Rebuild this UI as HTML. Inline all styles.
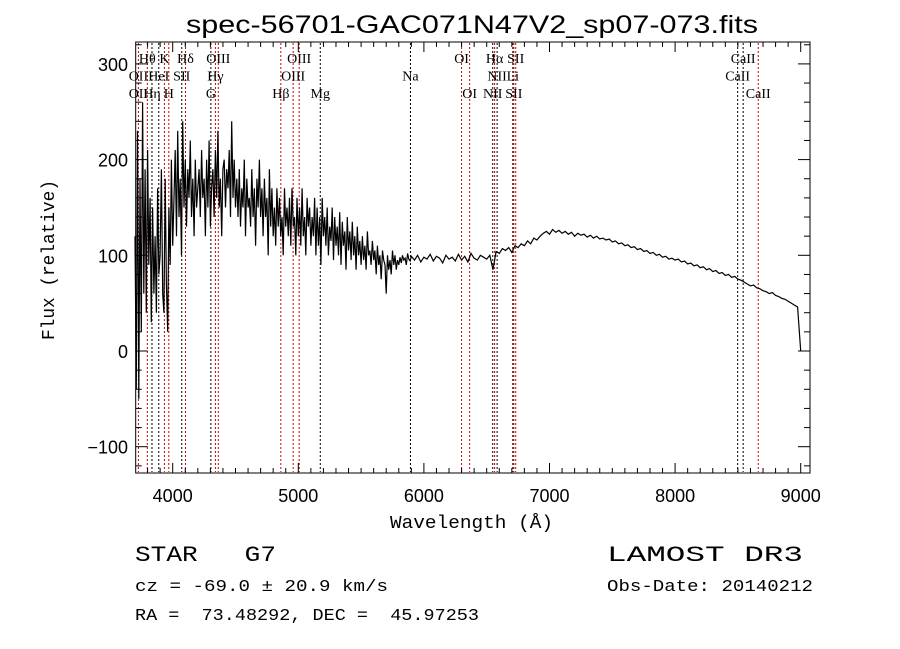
<!DOCTYPE html>
<html><head><meta charset="utf-8"><style>
body{margin:0;background:#fff;width:900px;height:649px;overflow:hidden}
svg{display:block}
text{white-space:pre}
.ser{font-family:"Liberation Serif",serif;font-size:14px}
.mono{font-family:"Liberation Mono",monospace}
.sans{font-family:"Liberation Sans",sans-serif}
</style></head><body>
<svg id="chart" width="900" height="649" xml:space="preserve">
<text x="186" y="33" textLength="572" lengthAdjust="spacingAndGlyphs" class="sans" font-size="25">spec-56701-GAC071N47V2_sp07-073.fits</text>
<g id="lines"></g>
<g id="labels"></g>
<path id="spec" fill="none" stroke="#000" stroke-width="1.2"/>
<rect x="135.7" y="42" width="674.3" height="431" fill="none" stroke="#000"/>
<g id="ticks"></g>
<text x="390" y="528" textLength="163" lengthAdjust="spacingAndGlyphs" class="mono" font-size="18">Wavelength (Å)</text>
<text transform="translate(54,340) rotate(-90)" textLength="160" lengthAdjust="spacingAndGlyphs" class="mono" font-size="18">Flux (relative)</text>
<text x="135" y="561" textLength="141" lengthAdjust="spacingAndGlyphs" class="mono" font-size="22">STAR   G7</text>
<text x="135" y="591" textLength="253" lengthAdjust="spacingAndGlyphs" class="mono" font-size="17">cz = -69.0 ± 20.9 km/s</text>
<text x="135" y="620" textLength="344" lengthAdjust="spacingAndGlyphs" class="mono" font-size="17">RA =  73.48292, DEC =  45.97253</text>
<text x="607" y="561" textLength="196" lengthAdjust="spacingAndGlyphs" class="mono" font-size="22">LAMOST DR3</text>
<text x="607" y="591" textLength="206" lengthAdjust="spacingAndGlyphs" class="mono" font-size="17">Obs-Date: 20140212</text>
</svg>
<script>
const fluxBlue=[120,-40,230,-50,180,20,260,60,190,40,210,
90,160,30,150,60,120,40,170,80,100,
190,60,40,180,70,20,150,90,200,110,
160,210,120,230,140,180,100,240,150,200,
130,190,160,220,140,180,120,200,150,170,
190,140,210,160,180,120,200,150,220,130,
170,190,140,210,160,230,150,180,120,190,
200,150,190,170,210,140,240,160,200,150,
180,140,190,130,170,150,200,120,180,150,
160,130,190,140,170,110,180,150,200,140,
170,120,180,140,160,100,190,130,170,120,
150,110,170,130,160,120,140,100,170,130,
150,120,160,110,170,130,140,100,160,120,
150,110,170,120,140,100,160,130,150,110,
140,120,160,100,150,110,140,90,160,120,
140,110,150,100,130,115,150,95,140,110,
130,100,145,90,135,110,125,85,140,105,
125,95,135,100,120,85,130,100,115,90,
120,95,110,85,125,100,105,90,115,95,
105,80,110,90,100,75,105,95,90,60,
100,85,95,80,105,90,100,85,95,90,
98,92,100,95,97,90,102,96,94,99];
const fluxRed=[95,100,93,98,96,101,94,99,97,92,100,96,
98,94,101,95,99,93,102,97,95,100,98,96,
100,85,104,102,107,105,108,103,110,108,112,110,
115,112,118,116,120,123,125,122,127,124,126,123,
125,122,124,120,123,121,122,119,121,118,120,117,
118,116,117,114,115,112,113,110,111,108,109,106,
107,104,105,102,103,100,101,98,99,96,97,95,
96,93,94,91,92,89,90,87,88,85,86,83,
84,81,82,79,80,77,78,75,74,72,70,68,
69,66,65,63,62,60,61,58,57,55,54,52,
50,48,46,0];
const xTicks=[4000,5000,6000,7000,8000,9000];
const yTicks=[-100,0,100,200,300];
const lineWaves=[3727,3798,3835,3889,3934,3969,4072,4102,4304,4340,4363,4861,4959,5007,5175,5893,6300,6364,6548,6563,6583,6708,6716,6731,8498,8542,8662];
const lineRed=[1,1,0,0,1,1,0,1,0,1,1,1,1,1,0,0,1,1,0,1,0,0,1,1,0,0,1];
const labelText=["Hθ","K","Hδ","OIII","OIII","OI","Hα","SII","CaII","OII","HeI","SII","Hγ","OIII","Na","NII","Li","CaII","OII","Hη","H","G","Hβ","Mg","OI","NII","SII","CaII"];
const labelWave=[3798,3934,4102,4363,5007,6300,6563,6731,8542,3727,3889,4072,4340,4959,5893,6583,6708,8498,3727,3835,3969,4304,4861,5175,6364,6548,6716,8662];
const labelRow=[0,0,0,0,0,0,0,0,0,1,1,1,1,1,1,1,1,1,2,2,2,2,2,2,2,2,2,2];
const X=w=>172.7+(w-4000)*0.1256, Y=f=>351-f*0.957;
const NS="http://www.w3.org/2000/svg";
function mk(t,a,p){const e=document.createElementNS(NS,t);for(const k in a)e.setAttribute(k,a[k]);p.appendChild(e);return e;}
let d="";
fluxBlue.forEach((f,i)=>{d+=(i?"L":"M")+X(3700+i*10).toFixed(1)+" "+Y(f).toFixed(1);});
fluxRed.forEach((f,i)=>{d+="L"+X(5925+i*25).toFixed(1)+" "+Y(f).toFixed(1);});
document.getElementById('spec').setAttribute('d',d);
const lg=document.getElementById('lines');
lineWaves.forEach((w,i)=>{const l=mk('line',{x1:X(w),x2:X(w),y1:43,y2:472,stroke:lineRed[i]?'#c00':'#000','stroke-width':1,'stroke-dasharray':'2,2'},lg);

});
const lb=document.getElementById('labels');
labelText.forEach((t,i)=>{const e=mk('text',{x:X(labelWave[i]),y:63+labelRow[i]*17.5,'text-anchor':'middle',class:'ser'},lb);e.textContent=t;

});
const tg=document.getElementById('ticks');
for(let w=3800;w<=9000;w+=100){const big=w%1000===0;mk('line',{x1:X(w),x2:X(w),y1:473,y2:473-(big?10:5),stroke:'#000'},tg);mk('line',{x1:X(w),x2:X(w),y1:42,y2:42+(big?10:5),stroke:'#000'},tg);}
xTicks.forEach(w=>{const e=mk('text',{x:X(w),y:502,'text-anchor':'middle',class:'sans','font-size':18},tg);e.textContent=w;

});
for(let f=-120;f<=320;f+=20){const big=f%100===0;mk('line',{x1:135.7,x2:135.7+(big?12:6),y1:Y(f),y2:Y(f),stroke:'#000'},tg);mk('line',{x1:810,x2:810-(big?12:6),y1:Y(f),y2:Y(f),stroke:'#000'},tg);}
yTicks.forEach(f=>{const e=mk('text',{x:128,y:Y(f)+7,'text-anchor':'end',class:'sans','font-size':18},tg);e.textContent=f<0?'−'+(-f):f;

});
</script>
</body></html>
